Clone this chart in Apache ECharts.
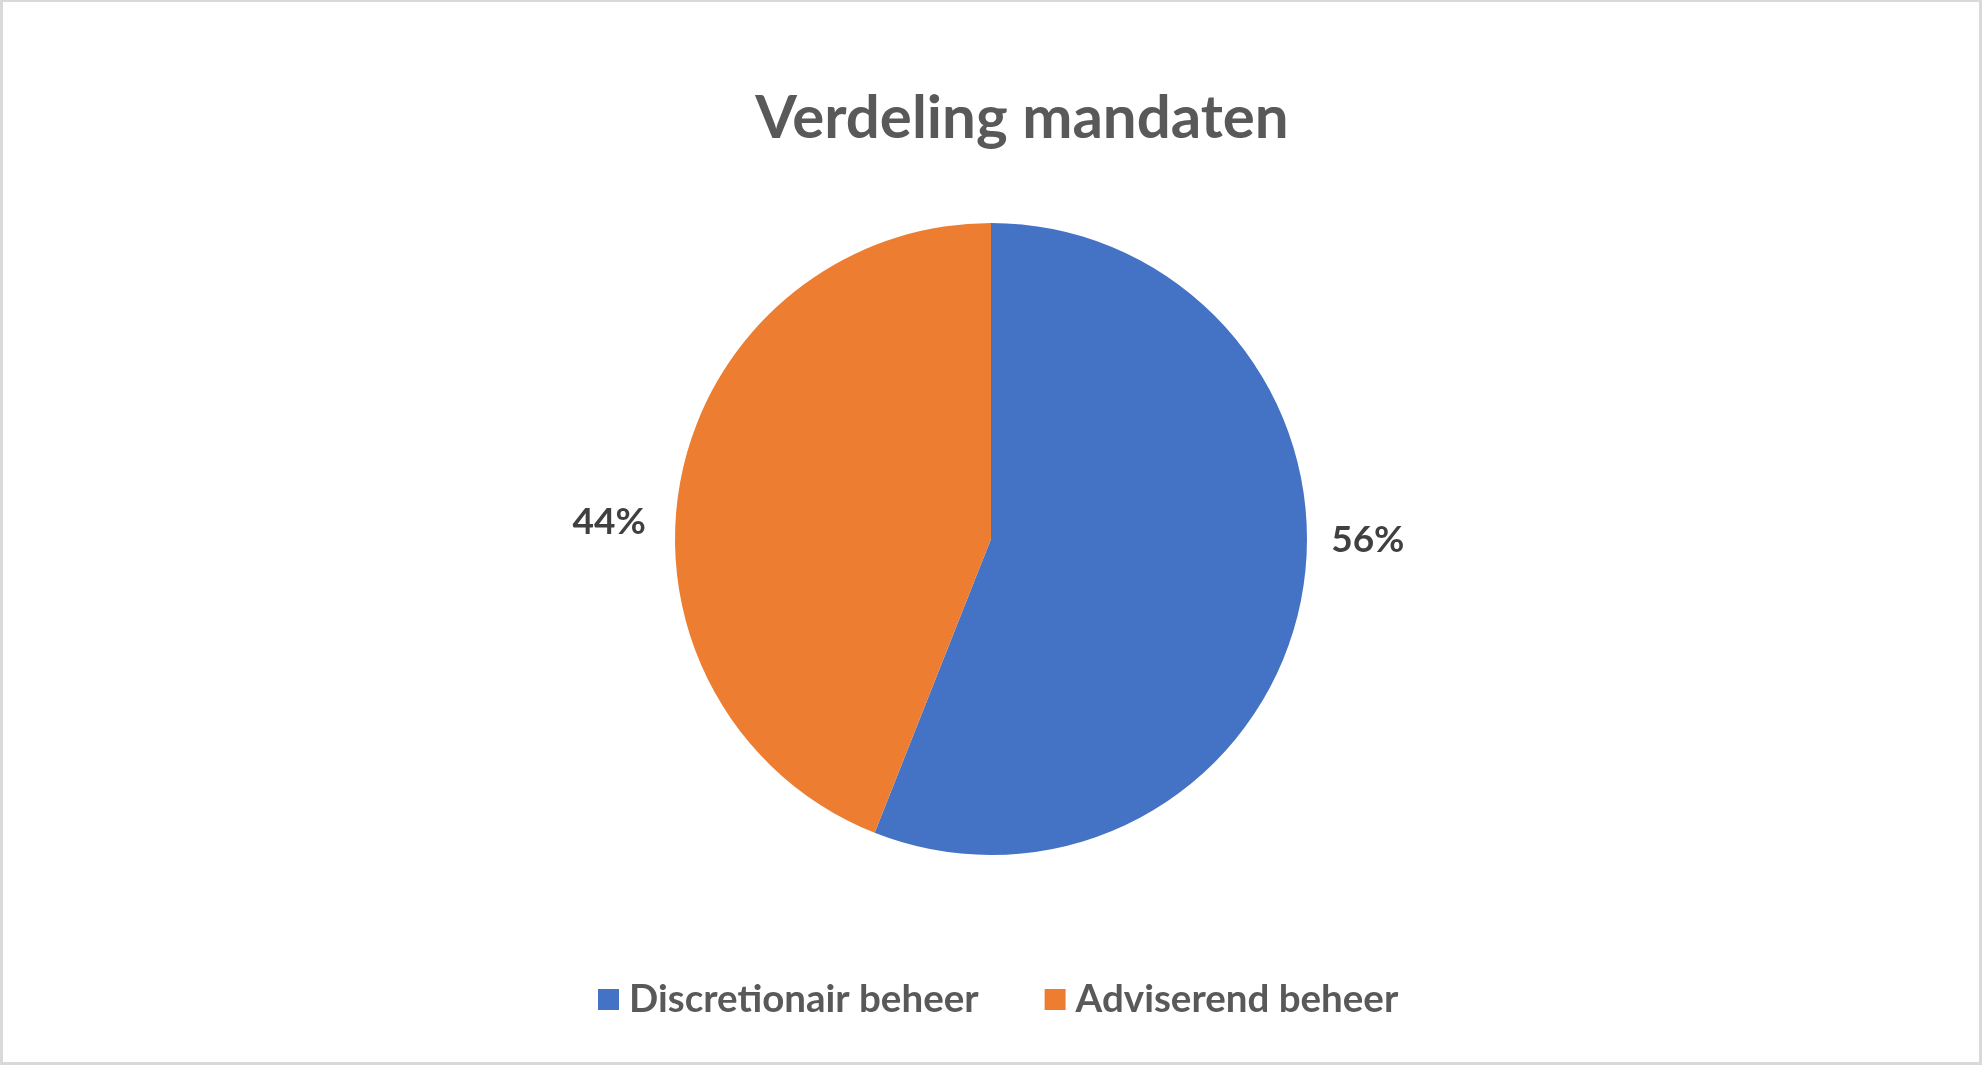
<!DOCTYPE html>
<html>
<head>
<meta charset="utf-8">
<script src="https://cdn.jsdelivr.net/npm/echarts@6/dist/echarts.min.js"></script>
<style>
  html, body { margin: 0; padding: 0; background: #fff; }
  #frame { box-sizing: border-box; width: 1982px; height: 1065px;
    border-style: solid; border-color: #d9d9d9; border-width: 2px 3px 3px 3px; }
  #chart { width: 100%; height: 100%; }
</style>
</head>
<body>
<div id="frame"><div id="chart"></div></div>
<script>
const titleText = 'Verdeling mandaten';
const categories = ['Discretionair beheer', 'Adviserend beheer'];
const values = [56, 44];
const colors = ['#4472C4', '#ED7D31'];

const chart = echarts.init(document.getElementById('chart'));
const labelNudge = [ {dy: -60, dx: -2}, {dy: 45, dx: 3} ];

chart.setOption({
  animation: false,
  title: {
    text: titleText,
    left: 1014,
    top: 82,
    textAlign: 'center',
    textStyle: { fontFamily: 'Lato', fontWeight: 'bold', fontSize: 60, color: '#595959' }
  },
  legend: {
    data: categories,
    left: 590,
    bottom: 38,
    icon: 'rect',
    itemWidth: 21,
    itemHeight: 21,
    itemGap: 66,
    textStyle: { fontFamily: 'Lato', fontWeight: 'bold', fontSize: 38.5, color: '#595959', padding: [0, 0, 0, 5] }
  },
  series: [{
    type: 'pie',
    center: [988, 537],
    radius: 316,
    startAngle: 90,
    clockwise: true,
    avoidLabelOverlap: false,
    itemStyle: { borderWidth: 0 },
    label: {
      show: true,
      position: 'outside',
      formatter: '{d}%',
      fontFamily: 'Lato', fontWeight: 'bold', fontSize: 37, color: '#404040'
    },
    labelLine: { show: false, length: 12, length2: 15 },
    labelLayout: function (p) { return labelNudge[p.dataIndex]; },
    data: categories.map((c, i) => ({
      name: c, value: values[i], itemStyle: { color: colors[i] },
      labelLine: i === 1 ? { length: 12, length2: 21 } : undefined
    }))
  }]
});
</script>
</body>
</html>
